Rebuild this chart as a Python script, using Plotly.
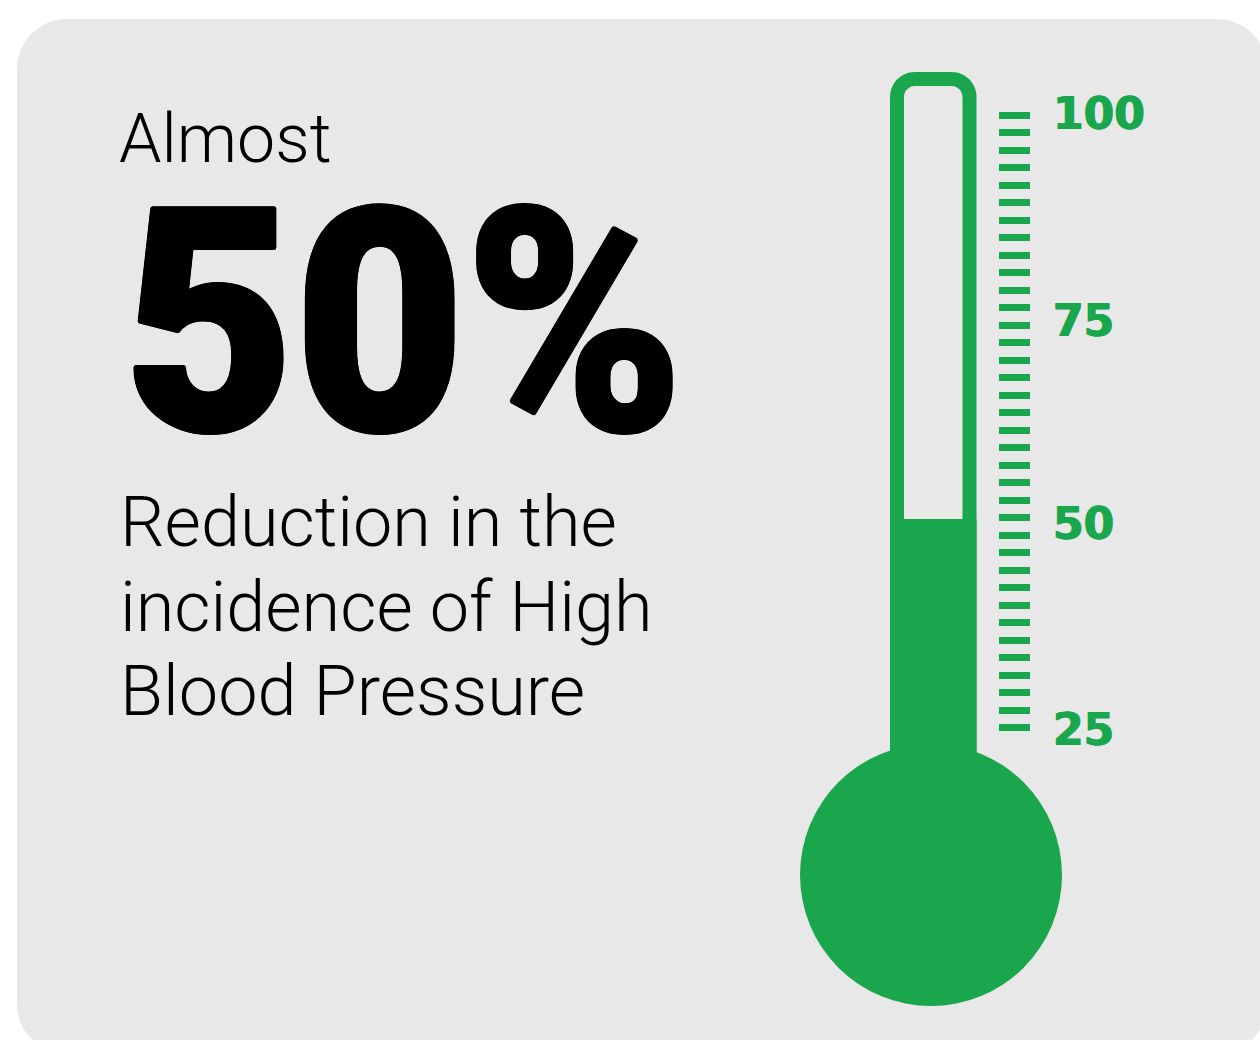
import numpy as np
import plotly.graph_objects as go

W, H = 1260, 1040

# Chart content
fill_value = [50]
fill_category = ["Reduction"]
scale_labels = ["100", "75", "50", "25"]
scale_label_values = [100, 75, 50, 25]
scale_label_nudge = [2, -4, -5, -9]
scale_ticks = np.linspace(100, 24.1, 36).tolist()
headline_top = "Almost"
headline_big = "50%"
headline_lines = ["Reduction in the", "incidence of High", "Blood Pressure"]

GREEN = "#1aa64d"
CARD = "#e8e8e8"
LIGHT = "Roboto"
KAPPA = 0.5523


def px(x):
    return x / W


def py(y):
    return 1 - y / H


def rounded_rect(x0, y0, x1, y1, r):
    """SVG path for a rounded rectangle, in paper coordinates from pixel input."""
    c = r * (1 - KAPPA)
    pts = [
        ("M", (x0 + r, y0)), ("L", (x1 - r, y0)),
        ("C", (x1 - c, y0), (x1, y0 + c), (x1, y0 + r)), ("L", (x1, y1 - r)),
        ("C", (x1, y1 - c), (x1 - c, y1), (x1 - r, y1)), ("L", (x0 + r, y1)),
        ("C", (x0 + c, y1), (x0, y1 - c), (x0, y1 - r)), ("L", (x0, y0 + r)),
        ("C", (x0, y0 + c), (x0 + c, y0), (x0 + r, y0)),
    ]
    parts = []
    for cmd, *coords in pts:
        parts.append(cmd + " " + " ".join(f"{px(x)} {py(y)}" for x, y in coords))
    return " ".join(parts) + " Z"


def solid(path, color):
    return dict(type="path", xref="paper", yref="paper", path=path,
                fillcolor=color, line=dict(width=0), layer="below")


shapes = [
    solid(rounded_rect(17, 19, 1267, 1054, 50), CARD),
    solid(rounded_rect(890, 72, 976.5, 800, 25), GREEN),
    solid(rounded_rect(904, 86, 962.5, 600, 11), CARD),
    dict(type="circle", xref="paper", yref="paper", layer="below",
         x0=px(800), x1=px(1062), y0=py(1006), y1=py(744),
         fillcolor=GREEN, line=dict(width=0)),
]

fig = go.Figure(
    go.Bar(x=fill_category, y=fill_value, marker=dict(color=GREEN, line=dict(width=0)),
           hoverinfo="skip", showlegend=False)
)

annotations = []


def label(text, x, y, size, family, anchor="left", weight=300, shadow=None):
    font = dict(family=family, size=size, color="#000000", weight=weight)
    if shadow:
        font["shadow"] = shadow
    annotations.append(dict(text=text, xref="paper", yref="paper", x=px(x), y=py(y),
                            xanchor=anchor, yanchor="middle", showarrow=False, borderpad=0,
                            font=font))


label(headline_top, 118, 139.5, 68, LIGHT)
label(headline_big, 403.5, 323, 312, "Roboto", anchor="center", weight=900,
      shadow="2px 0 0 #000, -2px 0 0 #000, 0 2px 0 #000, 0 -2px 0 #000, "
             "1.5px 1.5px 0 #000, -1.5px -1.5px 0 #000, 1.5px -1.5px 0 #000, -1.5px 1.5px 0 #000")
for line, y in zip(headline_lines, [522, 607, 691]):
    label(line, 119, y, 70.2, LIGHT)

for text, value, nudge in zip(scale_labels, scale_label_values, scale_label_nudge):
    annotations.append(dict(text=text, xref="paper", yref="y", x=px(1050.5), y=value,
                            yshift=nudge, xanchor="left", yanchor="middle", showarrow=False,
                            font=dict(family="DejaVu Sans", size=44, color=GREEN, weight=700,
                                      shadow="0.7px 0 0 #1aa64d, -0.7px 0 0 #1aa64d")))

fig.update_layout(
    width=W, height=H,
    margin=dict(l=0, r=0, t=0, b=0),
    paper_bgcolor="#ffffff", plot_bgcolor="rgba(0,0,0,0)",
    bargap=0, shapes=shapes, annotations=annotations, showlegend=False,
    xaxis=dict(domain=[px(890), px(976.5)], visible=False),
    yaxis=dict(
        domain=[0, 1], range=[-14.6, 114.25], anchor="free", position=px(997.5), side="right",
        tickmode="array", tickvals=scale_ticks, ticks="outside", ticklen=31, tickwidth=7,
        tickcolor=GREEN, showticklabels=False, showgrid=False, zeroline=False, showline=False,
    ),
)

# The big figure is set in a condensed cut: fit its run of glyphs to the column width.
condense = """
document.querySelectorAll('text.annotation-text').forEach(function (t) {
  if (t.textContent === '50%') {
    t.setAttribute('textLength', '560');
    t.setAttribute('lengthAdjust', 'spacingAndGlyphs');
  }
});
"""

fig.write_html("out.html", post_script=condense)
